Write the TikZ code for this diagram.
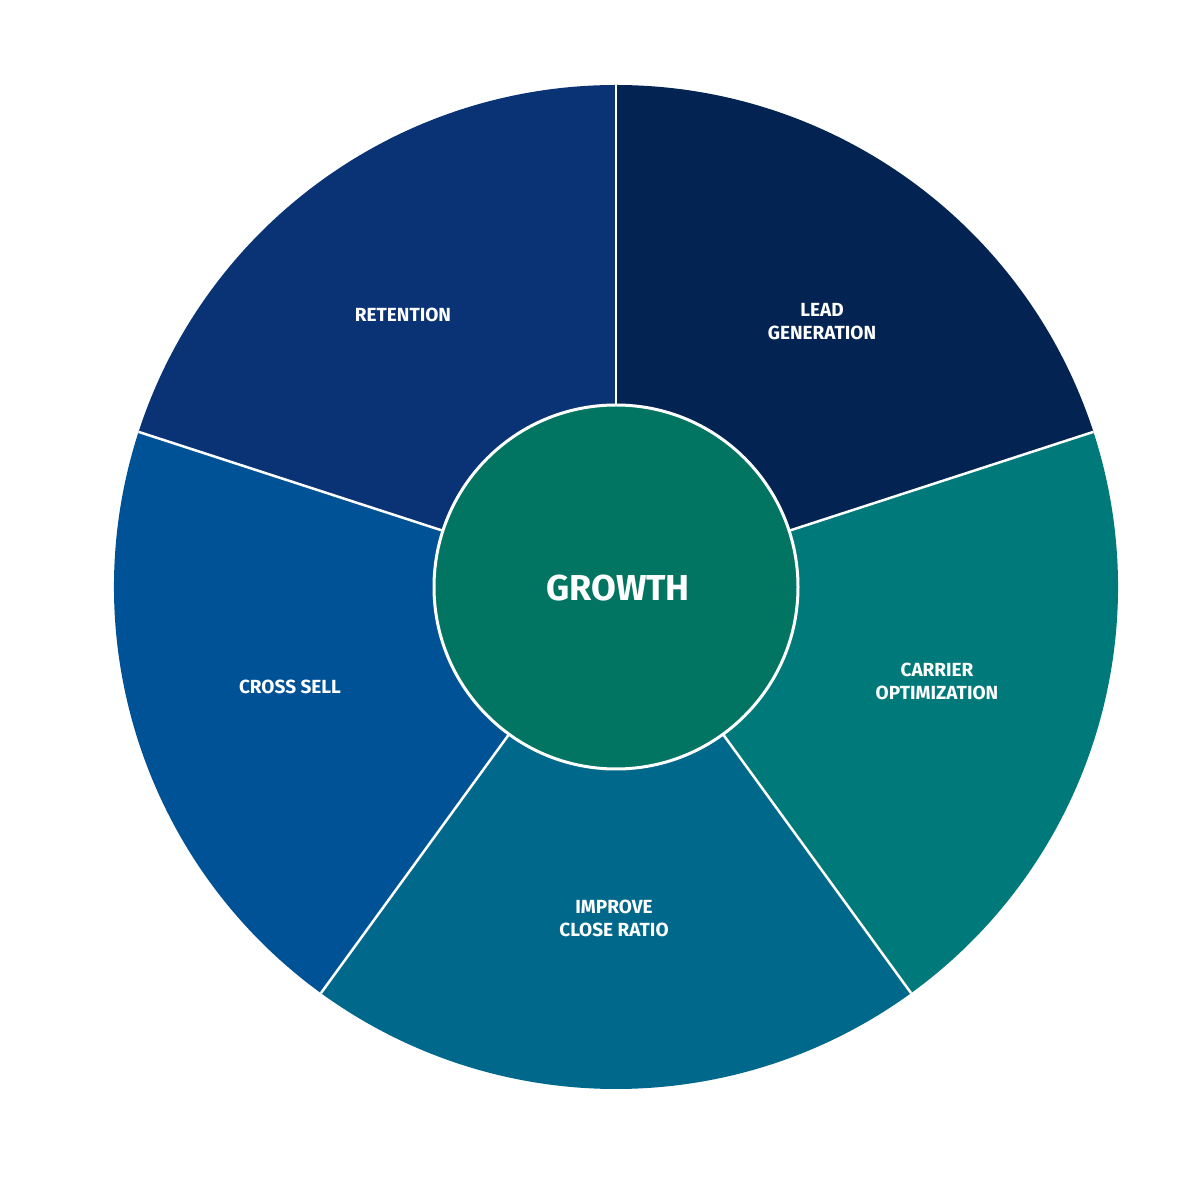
\documentclass[tikz,border=0pt]{standalone}
\usepackage{fontspec}
\setmainfont{Fira Sans}
\definecolor{cLead}{HTML}{032452}
\definecolor{cCarr}{HTML}{00797A}
\definecolor{cImp}{HTML}{00688B}
\definecolor{cCross}{HTML}{005296}
\definecolor{cRet}{HTML}{0A3376}
\definecolor{cGrow}{HTML}{027462}
\begin{document}
\begin{tikzpicture}[x=1pt,y=1pt,
  sect/.style={draw=white,line width=2.2pt,line join=miter},
  lab/.style={text=white,font=\fontsize{19}{23}\selectfont\bfseries,align=center}]
\useasboundingbox (0,0) rectangle (1200,1200);
\coordinate (c) at (616,613);
\def\R{502}
\fill[cLead] (c) -- ++(18:\R) arc (18:90:\R) -- cycle;
\fill[cCarr] (c) -- ++(-54:\R) arc (-54:18:\R) -- cycle;
\fill[cImp] (c) -- ++(-126:\R) arc (-126:-54:\R) -- cycle;
\fill[cCross] (c) -- ++(162:\R) arc (162:234:\R) -- cycle;
\fill[cRet] (c) -- ++(90:\R) arc (90:162:\R) -- cycle;
\foreach \a in {18,90,162,234,306} \draw[white,line width=2.5pt] (c) -- ++(\a:\R);
\node[circle,fill=cGrow,draw=white,line width=3pt,minimum size=364pt,inner sep=0pt] (g) at (c) {};
\node[text=white,font=\fontsize{36}{40}\selectfont\bfseries] (gt) at (618,612) {GROWTH};
\node[lab] (ret) at (403,885) {RETENTION};
\node[lab] (lead) at (822,878) {LEAD\\GENERATION};
\node[lab] (carr) at (937,519) {CARRIER\\OPTIMIZATION};
\node[lab] (imp) at (614,282) {IMPROVE\\CLOSE RATIO};
\node[lab] (cross) at (290,513) {CROSS SELL};
\end{tikzpicture}
\end{document}
